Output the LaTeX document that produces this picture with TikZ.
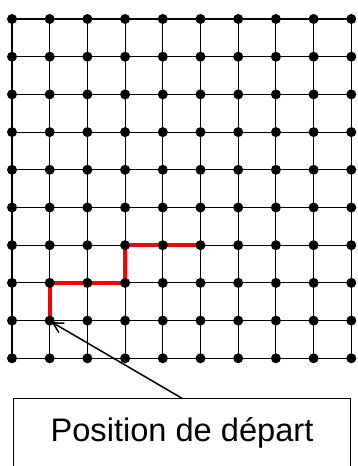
\documentclass[tikz,border=0pt]{standalone}
\usepackage{fontspec}
\setmainfont{Liberation Sans}
\usetikzlibrary{arrows.meta}
\begin{document}
\begin{tikzpicture}[x=1pt,y=1pt,
  gridline/.style={line width=1.1pt,black},
  dot/.style={circle,fill=black,inner sep=0pt,minimum size=10pt},
  pathline/.style={line width=3.7pt,red,line join=miter},
  pointer/.style={line width=1.5pt,-{Straight Barb[length=10pt,width=11pt,line width=1.5pt]}},
  labelbox/.style={draw,line width=1.1pt,inner sep=0pt,minimum width=337.4pt,
     text height=42.7pt,text depth=42pt,font=\fontsize{32.6}{36}\selectfont}]
\useasboundingbox (0,0) rectangle (358,466);
\clip (0,0) rectangle (358,466);
% coordinates for the grid points
\foreach \i in {0,...,9}{
  \foreach \j in {0,...,9}{
    \coordinate (c-\i-\j) at ({12+37.7*\i},{447-37.7*\j});
  }
}
% grid lines
\foreach \k in {0,...,9}{
  \draw[gridline] (c-0-\k) -- (c-9-\k);
  \draw[gridline] (c-\k-0) -- (c-\k-9);
}
% red path
\draw[pathline] (c-1-8) -- (c-1-7) -- (c-3-7) -- (c-3-6) -- (c-5-6);
% dots
\foreach \i in {0,...,9}{
  \foreach \j in {0,...,9}{
    \node[dot] (d-\i-\j) at (c-\i-\j) {};
  }
}
% label box
\node[labelbox,anchor=north] (box) at (182,67.7) {Position de départ};
\draw[pointer] (box.north) -- ([shift={(2pt,-1.5pt)}]d-1-8.center);
\end{tikzpicture}
\end{document}
